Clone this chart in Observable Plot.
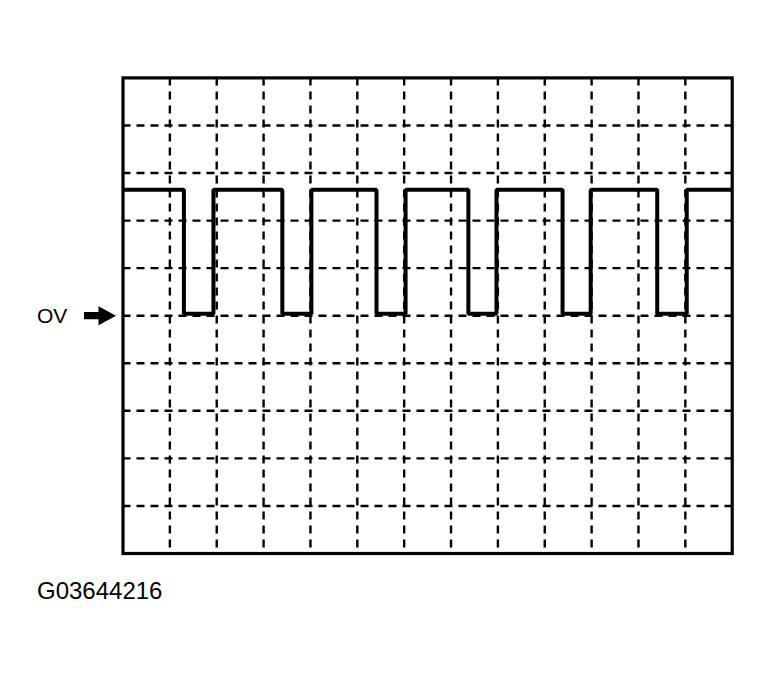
<!DOCTYPE html>
<html>
<head>
<meta charset="utf-8">
<script src="https://cdn.jsdelivr.net/npm/d3@7"></script>
<script src="https://cdn.jsdelivr.net/npm/@observablehq/plot@0.6"></script>
<style>
  html, body { margin: 0; padding: 0; background: #fff; }
  svg { display: block; }
</style>
</head>
<body>
<div id="chart"></div>
<script>
// Grid divisions (oscilloscope screen: 13 horizontal x 10 vertical)
const xGrid = [1, 2, 3, 4, 5, 6, 7, 8, 9, 10, 11, 12];
const yGrid = [-4, -3, -2, -1, 0, 1, 2, 3, 4];

// Square-wave signal: transition times (divisions) and levels (divisions above 0 V)
const edgeTimes  = [0, 1.30, 1.93, 3.40, 4.02, 5.41, 6.03, 7.37, 7.97, 9.38, 9.98, 11.40, 12.03, 13];
const edgeLevels = [2.65, 0.04, 2.65, 0.04, 2.65, 0.04, 2.65, 0.04, 2.65, 0.04, 2.65, 0.04, 2.65, 2.65];

// Labels
const zeroLabel = "OV";
const zeroLevel = [0];
const figureCode = "G03644216";

const wave = edgeTimes.map((t, i) => ({t, v: edgeLevels[i]}));

const arrowSymbol = {
  draw(ctx) {
    ctx.moveTo(-32, -3.6);
    ctx.lineTo(-17.5, -3.6);
    ctx.lineTo(-17.5, -9.5);
    ctx.lineTo(0, 0);
    ctx.lineTo(-17.5, 9.5);
    ctx.lineTo(-17.5, 3.6);
    ctx.lineTo(-32, 3.6);
    ctx.closePath();
  }
};

const font = "Liberation Sans, Arial, Helvetica, sans-serif";

const chart = Plot.plot({
  width: 772,
  height: 675,
  marginLeft: 122.5,
  marginRight: 40.3,
  marginTop: 77.4,
  marginBottom: 122,
  x: {domain: [0, 13], axis: null},
  y: {domain: [-5, 5], axis: null},
  style: {background: "#fff", fontFamily: font},
  marks: [
    Plot.ruleX(xGrid, {stroke: "#000", strokeWidth: 2.4, strokeDasharray: "8,6"}),
    Plot.ruleY(yGrid, {stroke: "#000", strokeWidth: 2.4, strokeDasharray: "8,6"}),
    Plot.line(wave, {x: "t", y: "v", curve: "step-after", stroke: "#000", strokeWidth: 4, strokeLinejoin: "miter", strokeLinecap: "butt"}),
    Plot.frame({stroke: "#000", strokeWidth: 3.2}),
    Plot.dot(zeroLevel, {y: d => d, frameAnchor: "left", dx: -7, symbol: arrowSymbol, fill: "#000", stroke: "none", r: 5}),
    Plot.text(zeroLevel, {y: d => d, frameAnchor: "left", text: () => zeroLabel, textAnchor: "start", dx: -86, dy: 0.5, fontSize: 21, fill: "#000", fontFamily: font}),
    Plot.text([figureCode], {frameAnchor: "bottom-left", text: d => d, textAnchor: "start", lineAnchor: "middle", dx: -86, dy: 38, fontSize: 24, fill: "#000", fontFamily: font})
  ]
});

document.getElementById("chart").append(chart);
</script>
</body>
</html>
